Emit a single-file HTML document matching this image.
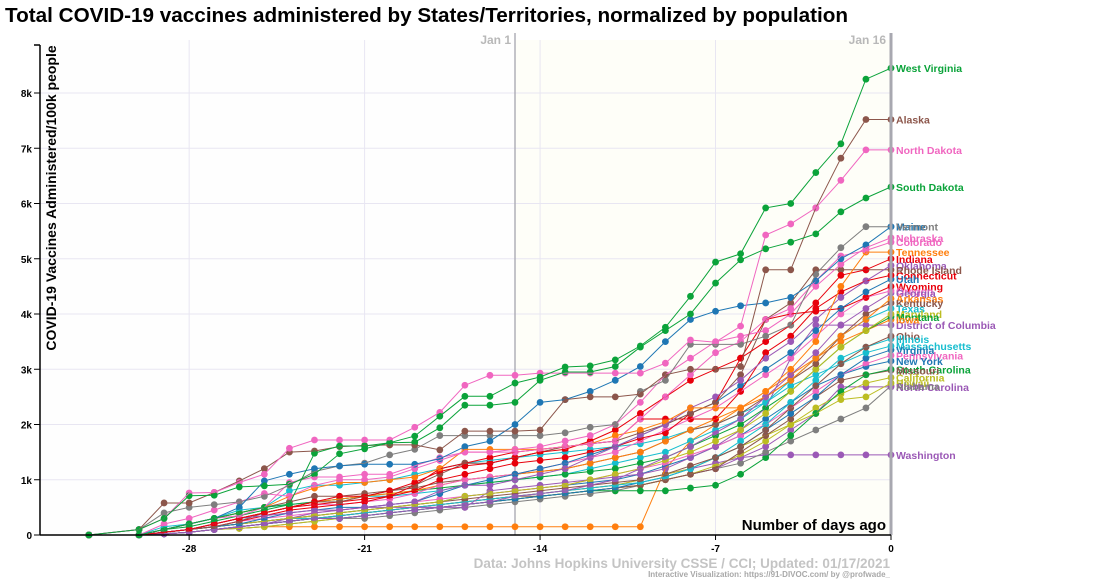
<!DOCTYPE html>
<html><head><meta charset="utf-8"><style>
body{margin:0;background:#fff;}
svg{display:block;font-family:"Liberation Sans",Arial,sans-serif;}
</style></head><body>
<svg id="chart" width="1108" height="580" viewBox="0 0 1108 580">
<rect x="0" y="0" width="1108" height="580" fill="#fff"/>
<text x="5" y="22" font-size="20.7" font-weight="bold" fill="#000">Total COVID-19 vaccines administered by States/Territories, normalized by population</text>
<g id="plot"></g>
</svg>
<script>
const days=[-32,-30,-29,-28,-27,-26,-25,-24,-23,-22,-21,-20,-19,-18,-17,-16,-15,-14,-13,-12,-11,-10,-9,-8,-7,-6,-5,-4,-3,-2,-1,0];
const xTicks=[-28,-21,-14,-7,0];
const yTicks=[0,1,2,3,4,5,6,7,8];
const yTickLabels=["0","1k","2k","3k","4k","5k","6k","7k","8k"];
const names=["West Virginia","South Dakota","North Dakota","Alaska","Maine","Vermont","Nebraska","Colorado","Tennessee","Indiana","Oklahoma","Rhode Island","Connecticut","Utah","Wyoming","Oregon","Georgia","Arkansas","Kentucky","Texas","Maryland","Montana","District of Columbia","Ohio","Illinois","Massachusetts","Virginia","Pennsylvania","New York","South Carolina","Missouri","California","Hawaii","North Carolina","Alabama","Washington","Iowa"];
const colors=["#0ba33a","#0ba33a","#f066c0","#8c564b","#1f77b4","#7f7f7f","#f066c0","#f066c0","#ff7f0e","#e8000b","#9b59b6","#8c564b","#e8000b","#1f77b4","#e8000b","#f066c0","#9b59b6","#ff7f0e","#8c564b","#17becf","#bcbd22","#0ba33a","#9b59b6","#8c564b","#17becf","#17becf","#1f77b4","#f066c0","#1f77b4","#0ba33a","#8c564b","#bcbd22","#bcbd22","#9b59b6","#7f7f7f","#9b59b6","#ff7f0e"];
const sWV=[0,0.1,0.3,0.71,0.72,0.87,0.89,0.92,1.1,1.47,1.56,1.67,1.79,2.15,2.51,2.51,2.75,2.86,3.04,3.06,3.17,3.42,3.76,4.32,4.94,5.09,5.92,6.0,6.56,7.08,8.25,8.45];
const sSD=[0,0,0.1,0.2,0.3,0.4,0.5,0.56,1.48,1.61,1.61,1.67,1.68,1.94,2.35,2.35,2.4,2.8,2.95,2.95,3.05,3.4,3.7,4.0,4.56,4.98,5.18,5.3,5.45,5.85,6.1,6.3];
const sND=[0,0.1,0.3,0.76,0.77,0.95,1.1,1.57,1.72,1.72,1.72,1.72,1.95,2.22,2.71,2.89,2.89,2.93,2.93,2.93,2.93,2.93,3.11,3.53,3.49,3.78,5.43,5.63,5.92,6.42,6.97,6.97];
const sAK=[0,0.1,0.58,0.58,0.77,0.98,1.2,1.5,1.52,1.6,1.62,1.63,1.63,1.54,1.88,1.88,1.88,1.9,2.45,2.5,2.5,2.55,2.9,3.0,3.0,3.05,4.8,4.8,5.92,6.82,7.52,7.52];
const sME=[0,0,0.1,0.2,0.3,0.5,0.98,1.1,1.2,1.25,1.28,1.28,1.28,1.38,1.6,1.7,2.0,2.4,2.45,2.6,2.8,3.05,3.5,3.9,4.05,4.15,4.2,4.3,4.6,5.0,5.25,5.58];
const sVT=[0,0.1,0.4,0.5,0.55,0.6,0.7,0.9,1.15,1.25,1.3,1.45,1.55,1.8,1.8,1.8,1.8,1.8,1.85,1.95,2.0,2.6,2.8,3.45,3.45,3.45,3.6,3.8,4.72,5.2,5.58,5.58];
const sNE=[0,0,0.1,0.2,0.3,0.35,0.5,0.95,1.05,1.05,1.1,1.1,1.25,1.4,1.5,1.5,1.55,1.6,1.7,1.8,2.0,2.4,2.9,3.2,3.5,3.6,3.7,4.0,4.5,4.9,5.2,5.38];
const sCO=[0,0,0.2,0.3,0.45,0.6,0.75,0.7,0.9,1.0,1.0,1.05,1.2,1.35,1.5,1.5,1.5,1.55,1.6,1.65,1.7,2.1,2.5,2.9,3.3,3.5,3.9,4.1,4.6,5.05,5.15,5.3];
const sTN=[0,0,0.1,0.2,0.3,0.4,0.5,0.7,0.85,0.95,0.95,1.0,1.05,1.2,1.55,1.55,1.55,1.55,1.6,1.65,1.8,1.9,2.05,2.3,2.3,2.3,2.6,3.0,3.5,4.5,5.12,5.12];
const sIN=[0,0,0.05,0.1,0.2,0.3,0.4,0.5,0.6,0.7,0.7,0.8,0.95,1.15,1.25,1.3,1.4,1.5,1.55,1.7,1.9,2.2,2.5,2.8,3.0,3.2,3.5,3.8,4.2,4.7,4.8,5.0];
const sOK=[0,0,0.05,0.1,0.2,0.3,0.35,0.4,0.45,0.45,0.5,0.55,0.6,0.8,0.9,0.9,1.0,1.1,1.2,1.4,1.6,1.8,2.0,2.3,2.5,2.8,3.2,3.5,3.9,4.3,4.6,4.88];
const sRI=[0,0,0.05,0.1,0.15,0.25,0.4,0.5,0.6,0.6,0.7,0.8,0.9,1.1,1.3,1.3,1.4,1.5,1.6,1.65,1.7,1.85,2.0,2.2,2.4,2.9,3.9,4.2,4.8,4.8,4.8,4.8];
const sCT=[0,0,0.05,0.1,0.2,0.3,0.4,0.5,0.55,0.6,0.65,0.7,0.9,1.2,1.3,1.4,1.5,1.55,1.6,1.65,1.7,2.1,2.1,2.1,2.1,2.6,3.3,3.6,4.1,4.4,4.6,4.7];
const sUT=[0,0,0.05,0.1,0.15,0.2,0.3,0.4,0.45,0.5,0.5,0.55,0.6,0.75,0.9,1.0,1.1,1.2,1.3,1.45,1.6,1.8,2.0,2.2,2.4,2.7,3.0,3.3,3.7,4.1,4.4,4.63];
const sWY=[0,0,0.05,0.1,0.15,0.25,0.35,0.45,0.5,0.55,0.6,0.7,0.8,1.0,1.1,1.2,1.3,1.35,1.4,1.5,1.6,1.75,1.85,2.2,2.4,3.2,3.9,4.0,4.05,4.1,4.3,4.5];
const sOR=[0,0,0.05,0.1,0.2,0.3,0.4,0.5,0.55,0.55,0.6,0.65,0.75,0.9,1.0,1.05,1.1,1.2,1.3,1.4,1.5,1.7,1.9,2.1,2.3,2.6,2.9,3.2,3.6,4.0,4.3,4.42];
const sGA=[0,0,0.02,0.05,0.1,0.15,0.2,0.25,0.3,0.3,0.35,0.4,0.45,0.5,0.55,0.6,0.7,0.75,0.8,0.9,1.0,1.2,1.4,1.6,1.85,2.1,2.5,2.9,3.3,3.8,4.1,4.38];
const sAR=[0,0,0.05,0.1,0.2,0.3,0.4,0.5,0.6,0.65,0.7,0.75,0.8,0.9,1.0,1.05,1.1,1.15,1.2,1.3,1.4,1.5,1.7,1.9,2.1,2.3,2.5,2.8,3.2,3.6,3.9,4.28];
const sKY=[0,0,0.1,0.2,0.3,0.4,0.5,0.6,0.7,0.7,0.75,0.8,0.85,0.95,1.0,1.05,1.1,1.15,1.2,1.3,1.4,1.5,1.7,1.9,2.0,2.2,2.5,2.8,3.1,3.6,4.0,4.2];
const sTX=[0,0,0.15,0.2,0.3,0.45,0.5,0.8,0.9,0.9,0.95,1.0,1.1,1.2,1.3,1.35,1.4,1.45,1.5,1.55,1.6,1.65,1.75,1.9,2.0,2.2,2.4,2.8,3.2,3.6,3.9,4.1];
const sMD=[0,0,0.05,0.1,0.15,0.2,0.25,0.3,0.35,0.4,0.45,0.5,0.55,0.6,0.7,0.75,0.8,0.85,0.9,1.0,1.1,1.2,1.35,1.5,1.7,1.9,2.2,2.6,3.0,3.4,3.7,4.0];
const sMT=[0,0,0.1,0.15,0.25,0.35,0.45,0.55,0.6,0.65,0.7,0.75,0.8,0.85,0.9,0.95,1.0,1.05,1.1,1.15,1.2,1.3,1.4,1.6,1.8,2.0,2.3,2.6,3.0,3.4,3.7,3.95];
const sDC=[0,0,0.02,0.05,0.1,0.15,0.2,0.3,0.4,0.45,0.5,0.5,0.5,0.5,0.5,0.8,0.85,0.9,0.95,1.0,1.05,1.1,1.2,1.4,1.6,1.9,2.3,3.2,3.8,3.8,3.8,3.8];
const sOH=[0,0,0.05,0.1,0.15,0.2,0.25,0.3,0.35,0.4,0.45,0.5,0.55,0.6,0.65,0.7,0.75,0.8,0.85,0.9,0.95,1.0,1.1,1.25,1.4,1.6,1.9,2.3,2.7,3.1,3.4,3.6];
const sIL=[0,0,0.05,0.1,0.15,0.2,0.25,0.3,0.3,0.35,0.4,0.45,0.5,0.55,0.6,0.65,0.7,0.75,0.8,0.85,0.9,0.95,1.05,1.2,1.4,1.7,2.0,2.4,2.8,3.2,3.4,3.55];
const sMA=[0,0,0.1,0.2,0.3,0.4,0.5,0.55,0.6,0.65,0.7,0.7,0.75,0.8,0.9,0.95,1.0,1.05,1.1,1.2,1.3,1.4,1.5,1.7,1.9,2.1,2.4,2.7,2.9,3.1,3.3,3.42];
const sVA=[0,0,0.02,0.05,0.1,0.15,0.2,0.25,0.3,0.3,0.35,0.4,0.45,0.5,0.55,0.6,0.65,0.7,0.75,0.8,0.85,0.95,1.05,1.2,1.4,1.6,1.9,2.2,2.5,2.9,3.2,3.35];
const sPA=[0,0,0.05,0.1,0.15,0.25,0.3,0.35,0.4,0.45,0.5,0.55,0.6,0.65,0.7,0.75,0.8,0.85,0.9,1.0,1.1,1.2,1.3,1.45,1.6,1.8,2.0,2.3,2.6,2.9,3.1,3.25];
const sNY=[0,0,0.05,0.1,0.15,0.2,0.25,0.3,0.35,0.4,0.45,0.5,0.55,0.6,0.7,0.75,0.8,0.85,0.9,0.95,1.0,1.1,1.25,1.4,1.6,1.8,2.1,2.4,2.7,2.9,3.05,3.15];
const sSC=[0,0,0.02,0.05,0.1,0.15,0.2,0.25,0.3,0.3,0.35,0.4,0.45,0.5,0.55,0.6,0.65,0.7,0.75,0.8,0.8,0.8,0.8,0.85,0.9,1.1,1.4,1.8,2.2,2.6,2.9,3.0];
const sMO=[0,0,0.02,0.05,0.1,0.15,0.2,0.25,0.3,0.35,0.4,0.45,0.5,0.55,0.6,0.65,0.7,0.7,0.75,0.8,0.85,0.9,1.0,1.1,1.2,1.5,1.8,2.1,2.5,2.8,2.9,2.98];
const sCA=[0,0,0.02,0.05,0.1,0.12,0.15,0.2,0.25,0.3,0.35,0.4,0.45,0.5,0.55,0.6,0.65,0.7,0.75,0.8,0.85,0.9,1.0,1.1,1.25,1.45,1.7,2.0,2.3,2.55,2.75,2.85];
const sHI=[0,0,0.05,0.1,0.15,0.2,0.25,0.3,0.3,0.35,0.4,0.45,0.5,0.55,0.6,0.65,0.7,0.75,0.8,0.85,0.9,1.0,1.1,1.2,1.4,1.6,1.8,2.0,2.2,2.45,2.5,2.75];
const sNC=[0,0,0.02,0.05,0.1,0.15,0.2,0.25,0.3,0.35,0.4,0.45,0.5,0.5,0.55,0.6,0.65,0.7,0.75,0.8,0.85,0.9,1.0,1.1,1.2,1.4,1.6,1.9,2.2,2.68,2.68,2.68];
const sAL=[0,0,0.02,0.05,0.1,0.12,0.15,0.2,0.25,0.3,0.3,0.35,0.4,0.45,0.5,0.55,0.6,0.65,0.7,0.75,0.8,0.9,1.0,1.1,1.2,1.3,1.5,1.7,1.9,2.1,2.3,2.7];
const sWA=[0,0,0.02,0.05,0.1,0.15,0.2,0.25,0.3,0.35,0.4,0.45,0.5,0.55,0.6,0.65,0.7,0.75,0.8,0.85,0.9,1.0,1.1,1.2,1.3,1.4,1.45,1.45,1.45,1.45,1.45,1.45];
const sIA=[0,0,0.02,0.05,0.1,0.12,0.15,0.15,0.15,0.15,0.15,0.15,0.15,0.15,0.15,0.15,0.15,0.15,0.15,0.15,0.15,0.15,1.2,1.7,2.0,2.3,2.6,2.9,3.2,3.5,3.7,3.9];
const series=[sWV,sSD,sND,sAK,sME,sVT,sNE,sCO,sTN,sIN,sOK,sRI,sCT,sUT,sWY,sOR,sGA,sAR,sKY,sTX,sMD,sMT,sDC,sOH,sIL,sMA,sVA,sPA,sNY,sSC,sMO,sCA,sHI,sNC,sAL,sWA,sIA];

const NS="http://www.w3.org/2000/svg";
const X0=40,X1=891,Y0=535,YT=40;
const xMin=-33.95;
function xs(d){return X0+(d-xMin)/(0-xMin)*(X1-X0);}
function ys(v){return Y0-v*55.25;}
const plot=document.getElementById('plot');
function mk(tag,attrs,parent){const e=document.createElementNS(NS,tag);for(const k in attrs)e.setAttribute(k,attrs[k]);(parent||plot).appendChild(e);return e;}

const bg=mk('rect',{x:X0,y:YT,width:xs(-15)-X0,height:Y0-YT,fill:'#fefefe'});


const bg2=mk('rect',{x:xs(-15),y:YT,width:X1-xs(-15),height:Y0-YT,fill:'#fefef8'});



const grid=mk('g',{});


yTicks.forEach(v=>{if(v>0)mk('line',{x1:X0,x2:X1,y1:ys(v),y2:ys(v),stroke:'#e8e6f2','stroke-width':1},grid);});
xTicks.forEach(d=>{if(d<0)mk('line',{x1:xs(d),x2:xs(d),y1:YT,y2:Y0,stroke:'#e8e6f2','stroke-width':1},grid);});

const jan1=mk('line',{x1:xs(-15),x2:xs(-15),y1:33,y2:Y0,stroke:'#b0b0b8','stroke-width':1.5});


const j1t=mk('text',{x:xs(-15)-4,y:44,'text-anchor':'end','font-size':12,'font-weight':'bold',fill:'#b8b8b8'});
j1t.textContent='Jan 1';


const j16t=mk('text',{x:X1-5,y:44,'text-anchor':'end','font-size':12,'font-weight':'bold',fill:'#b8b8b8'});
j16t.textContent='Jan 16';



const lines=mk('g',{});


for(let i=series.length-1;i>=0;i--){
  const vals=series[i];
  const g=mk('g',{},lines);
  
  
  const pts=vals.map((v,j)=>xs(days[j]).toFixed(1)+','+ys(v).toFixed(1)).join(' ');
  mk('polyline',{points:pts,fill:'none',stroke:colors[i],'stroke-width':1});
  vals.forEach((v,j)=>{
    const c=mk('circle',{cx:xs(days[j]),cy:ys(v),r:3.4,fill:colors[i]},g);
    
    
  });
}

const endLine=mk('line',{x1:X1,x2:X1,y1:33,y2:Y0,stroke:'#a8a8b0','stroke-width':3});



const labels=mk('g',{});


series.forEach((vals,i)=>{
  const t=mk('text',{x:896,y:ys(vals[vals.length-1])+4,'font-size':10.5,'font-weight':'bold',fill:colors[i]},labels);
  t.textContent=names[i];
  
  
});

const yax=mk('g',{});


mk('line',{x1:X0,x2:X0,y1:45,y2:Y0,stroke:'#000','stroke-width':1.5},yax);
mk('line',{x1:34,x2:X0,y1:45,y2:45,stroke:'#000','stroke-width':1.5},yax);
yTicks.forEach((v,i)=>{
  mk('line',{x1:34,x2:X0,y1:ys(v),y2:ys(v),stroke:'#000','stroke-width':1},yax);
  const t=mk('text',{x:32,y:ys(v)+4,'text-anchor':'end','font-size':10,'font-weight':'bold',fill:'#000'},yax);
  t.textContent=yTickLabels[i];
  
  
});
const yt=mk('text',{x:0,y:0,transform:'translate(56,198) rotate(-90)','text-anchor':'middle','font-size':14,'font-weight':'bold',fill:'#000'});
yt.textContent='COVID-19 Vaccines Administered/100k people';



const xax=mk('g',{});


mk('line',{x1:X0,x2:X1,y1:Y0,y2:Y0,stroke:'#000','stroke-width':1.5},xax);
xTicks.forEach(d=>{
  mk('line',{x1:xs(d),x2:xs(d),y1:Y0,y2:Y0+5,stroke:'#000','stroke-width':1},xax);
  const t=mk('text',{x:xs(d),y:Y0+17,'text-anchor':'middle','font-size':10,'font-weight':'bold',fill:'#000'},xax);
  t.textContent=String(d);
  
  
});
const xt=mk('text',{x:886,y:530,'text-anchor':'end','font-size':15,'font-weight':'bold',fill:'#000'});
xt.textContent='Number of days ago';


const src=mk('text',{x:890,y:568,'text-anchor':'end','font-size':13.5,'font-weight':'bold',fill:'#c4c4c4'});
src.textContent='Data: Johns Hopkins University CSSE / CCI; Updated: 01/17/2021';


const cr=mk('text',{x:890,y:577,'text-anchor':'end','font-size':8,'font-weight':'bold',fill:'#a8a8a8'});
cr.textContent='Interactive Visualization: https://91-DIVOC.com/ by @profwade_';


</script>
</body></html>
